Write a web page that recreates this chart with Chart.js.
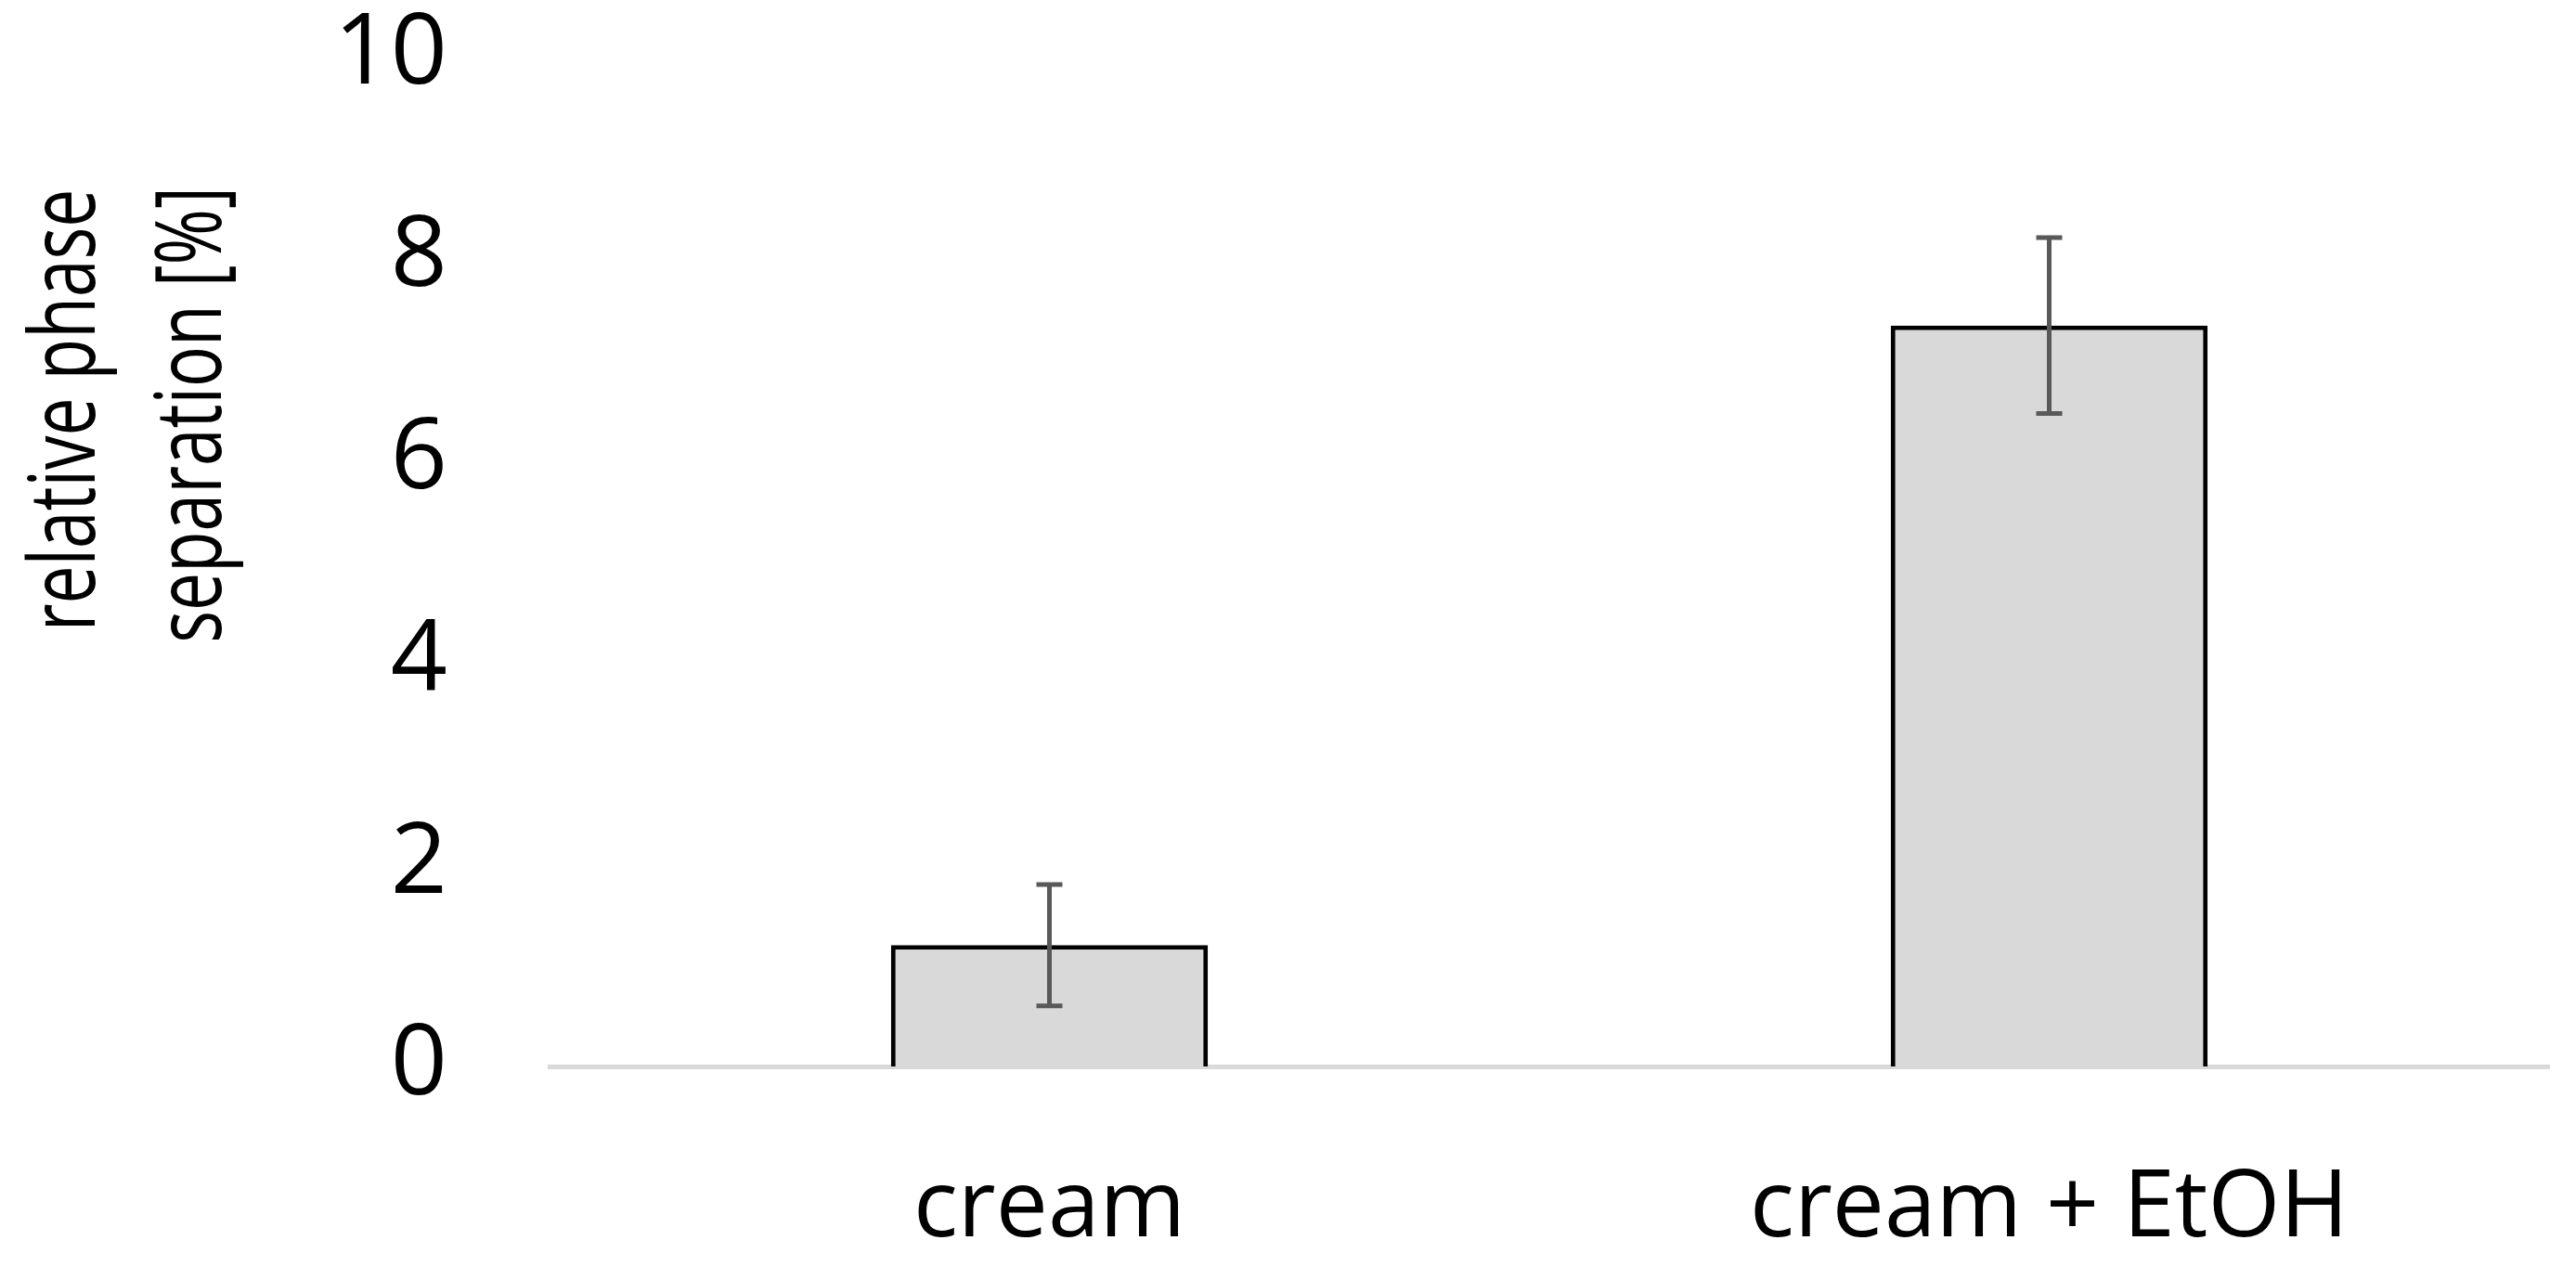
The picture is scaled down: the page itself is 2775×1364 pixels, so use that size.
<!DOCTYPE html>
<html>
<head>
<meta charset="utf-8">
<title>relative phase separation</title>
<script src="https://cdn.jsdelivr.net/npm/chart.js@4"></script>
<style>
  html, body { margin: 0; padding: 0; background: #ffffff; }
  canvas { display: block; }
</style>
</head>
<body>
<canvas id="myChart" width="2775" height="1364"></canvas>
<script>
const categories = ["cream", "cream + EtOH"];
const separationValues = [1.2, 7.33];
const separationErrors = [0.6, 0.87];
const yTicks = [0, 2, 4, 6, 8, 10];
const yTitleLines = ["relative phase", "separation [%]"];

const fontFamily = '"Open Sans", "Noto Sans", sans-serif';

// error bars drawn on top of the bars using the chart's own scales
const errorBarPlugin = {
  id: "errorBars",
  afterDatasetsDraw(chart) {
    const ctx = chart.ctx;
    const meta = chart.getDatasetMeta(0);
    const yScale = chart.scales.y;
    ctx.save();
    ctx.strokeStyle = "#595959";
    ctx.lineWidth = 5;
    meta.data.forEach((bar, i) => {
      const value = separationValues[i];
      const err = separationErrors[i];
      const top = yScale.getPixelForValue(value + err);
      const bottom = yScale.getPixelForValue(value - err);
      const x = bar.x;
      const cap = 14;
      ctx.beginPath();
      ctx.moveTo(x, top);
      ctx.lineTo(x, bottom);
      ctx.moveTo(x - cap, top);
      ctx.lineTo(x + cap, top);
      ctx.moveTo(x - cap, bottom);
      ctx.lineTo(x + cap, bottom);
      ctx.stroke();
    });
    ctx.restore();
  },
};

// two-line rotated y axis title, narrow like the original
const yTitlePlugin = {
  id: "yTitle",
  afterDraw(chart) {
    const ctx = chart.ctx;
    const places = [
      { x: 102, y: 442 },
      { x: 238, y: 447 },
    ];
    ctx.save();
    ctx.fillStyle = "#000000";
    ctx.font = "98px " + fontFamily;
    ctx.textAlign = "center";
    ctx.textBaseline = "alphabetic";
    yTitleLines.forEach((line, i) => {
      ctx.save();
      ctx.translate(places[i].x, places[i].y);
      ctx.rotate(-Math.PI / 2);
      ctx.scale(0.745, 1);
      ctx.fillText(line, 0, 0);
      ctx.restore();
    });
    ctx.restore();
  },
};

const main = () => {
  const ctx = document.getElementById("myChart");
  new Chart(ctx, {
    type: "bar",
    data: {
      labels: categories,
      datasets: [
        {
          label: "relative phase separation",
          data: separationValues,
          backgroundColor: "#d9d9d9",
          borderColor: "#000000",
          borderWidth: 5,
          borderSkipped: "start",
          barPercentage: 0.317,
          categoryPercentage: 1,
        },
      ],
    },
    options: {
      responsive: false,
      animation: false,
      devicePixelRatio: 1,
      layout: {
        padding: { top: 60, right: 29, bottom: 0, left: 0 },
      },
      plugins: {
        legend: { display: false },
        tooltip: { enabled: false },
      },
      scales: {
        x: {
          grid: { display: false, drawTicks: false },
          border: { display: true, color: "#d9d9d9", width: 5 },
          ticks: {
            color: "#000000",
            padding: 95,
            font: { family: fontFamily, size: 100, lineHeight: 1.2 },
          },
          afterFit: (scale) => {
            scale.height = 215;
            scale.paddingLeft = 0;
            scale.paddingRight = 0;
          },
        },
        y: {
          min: 0,
          max: 10,
          grid: { display: false, drawTicks: false },
          border: { display: false },
          afterBuildTicks: (scale) => {
            scale.ticks = yTicks.map((v) => ({ value: v }));
          },
          ticks: {
            color: "#000000",
            padding: 110,
            font: { family: fontFamily, size: 107, lineHeight: 1.2 },
          },
          afterFit: (scale) => {
            scale.width = 592;
            scale.paddingTop = 0;
            scale.paddingBottom = 0;
          },
        },
      },
    },
    plugins: [errorBarPlugin, yTitlePlugin],
  });
};

main();
</script>
</body>
</html>
